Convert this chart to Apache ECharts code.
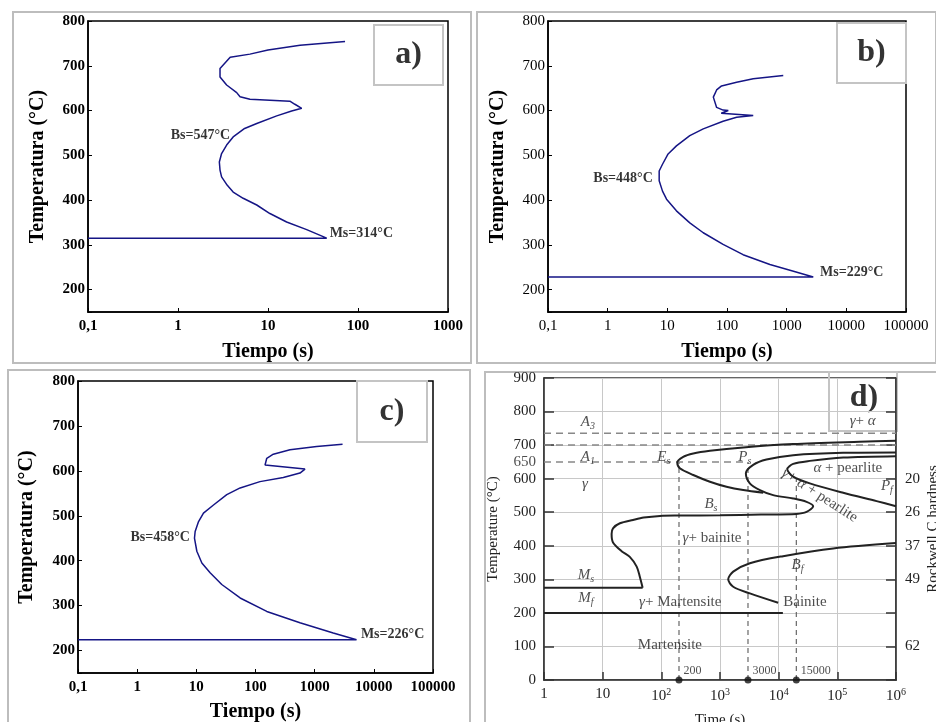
<!DOCTYPE html>
<html>
<head>
<meta charset="utf-8">
<script src="https://cdn.jsdelivr.net/npm/echarts@6/dist/echarts.min.js"></script>
<style>
    html, body { margin: 0; padding: 0; background: #fff; }
    #main { width: 936px; height: 722px; }
</style>
</head>
<body>
<div id="main"></div>
<script>
// ---- panel a ----
var timeA = [71.8, 22.7, 10, 6.3, 3.8, 2.93, 2.93, 3.47, 4.49, 4.89, 6.3, 17.5, 19.9, 23.7, 18.3, 12.5, 7.5, 5.5, 4.1, 3.47, 3.05, 2.88, 2.93, 3.05, 3.53, 4.1, 5.3, 7.5, 10.5, 16.1, 26.9, 44.9, 0.1];
var tempA = [754, 746, 735, 726, 719, 694, 675, 657, 640, 631, 625, 621, 614, 605, 599, 588, 571, 560, 541, 523, 504, 485, 467, 452, 433, 418, 404, 389, 370, 351, 334, 315, 315];
// ---- panel b ----
var timeB = [877, 275, 145, 81, 67, 59, 67, 86, 105, 80, 275, 145, 86, 40, 23.8, 14.2, 10.3, 8.3, 7.3, 7.3, 8.3, 9.7, 14.2, 23.8, 40, 86, 186, 524, 1300, 2790, 0.1];
var tempB = [678, 671, 663, 655, 646, 630, 607, 601, 600, 594, 589, 585, 576, 559, 544, 521, 503, 480, 465, 443, 420, 402, 376, 349, 327, 301, 278, 256, 241, 228, 228];
// ---- panel c ----
var timeC = [2960, 1080, 383, 200, 155, 145, 136, 686, 564, 295, 119, 55, 32.7, 19.5, 13.2, 10.9, 9.55, 9.3, 10.2, 12.4, 17.1, 26.9, 55, 155, 564, 2060, 5100, 0.1];
var tempC = [659, 654, 647, 637, 628, 613, 610, 604, 595, 585, 576, 562, 547, 524, 506, 487, 465, 450, 421, 395, 373, 347, 317, 287, 262, 239, 224, 224];
// labels Bs / Ms for a, b, c
var bsPoints = [[3.8, 545], [5.7, 448], [7.8, 451]];
var bsTexts = ['Bs=547°C', 'Bs=448°C', 'Bs=458°C'];
var msPoints = [[46, 325], [3350, 239], [5590, 235]];
var msTexts = ['Ms=314°C', 'Ms=229°C', 'Ms=226°C'];
var maxTimes = [1000, 100000, 100000];

// ---- panel d (TTT diagram) ----
var esTime = [1e6, 240000, 17700, 2490, 673, 350, 236, 187, 207, 350, 673, 1290, 2490, 5460];
var esTemp = [713, 710, 703, 693, 683, 675, 665, 648, 631, 611, 591, 576, 566, 558];
var psTime = [1e6, 126000, 17700, 6200, 3680, 2760, 3220, 4790, 8060, 17700, 29900, 38700, 29900, 20000, 5000, 1000, 200, 95, 50, 33, 19.7, 15, 14.2, 15, 21, 29, 38, 43, 48];
var psTemp = [678, 677, 670, 657, 641, 616, 586, 566, 551, 541, 531, 518, 501, 495, 493, 491, 490, 489, 484, 477, 467, 452, 435, 410, 384, 367, 338, 308, 275];
var pfTime = [1e6, 126000, 34000, 17700, 14000, 17700, 34000, 126000, 467000, 1e6];
var pfTemp = [667, 663, 653, 644, 628, 606, 586, 558, 533, 518];
var bfTime = [1e6, 85000, 11900, 3230, 1680, 1380, 1680, 3230, 9800];
var bfTemp = [408, 392, 369, 348, 323, 300, 278, 258, 230];
var msTimeD = [1, 48];
var msTempD = [275, 275];
var mfTimeD = [1, 11800];
var mfTempD = [200, 200];
var dashTemps = [735, 700, 650];
var dashEnds = [1e6, 1e6, 3000];
var dropTimes = [200, 3000, 20000];
var dropTops = [648, 650, 600];
var dropLabels = ['200', '3000', '15000'];
var hardTemps = [600, 500, 400, 300, 100];
var hardVals = ['20', '26', '37', '49', '62'];
var noteTimes = [5.6, 5.6, 5, 110, 2650, 700, 151000, 700000, 730, 21000, 5.2, 5.2, 210, 28000, 140, 270000];
var noteTemps = [769, 664, 585, 664, 664, 524, 632, 578, 423, 343, 313, 244, 232, 232, 104, 772];
var noteTexts = ['{i|A}{sb|3}', '{i|A}{sb|1}', '{i|γ}', '{i|E}{sb|s}', '{i|P}{sb|s}', '{i|B}{sb|s}',
    '{i|α} + pearlite', '{i|P}{sb|f}', '{i|γ}+ bainite', '{i|B}{sb|f}', '{i|M}{sb|s}', '{i|M}{sb|f}',
    '{i|γ}+ Martensite', 'Bainite', 'Martensite', '{i|γ}+ {i|α}'];

var serif = 'Liberation Serif';
var navy = '#151585';

function zip (xs, ys) {
    return xs.map(function (x, i) { return [x, ys[i]]; });
}

var grids = [
    { left: 88, top: 21, width: 360, height: 291 },
    { left: 548, top: 21, width: 358, height: 291 },
    { left: 78, top: 381, width: 355, height: 292 },
    { left: 544, top: 378, width: 352, height: 302 }
];
grids.forEach(function (g, i) {
    g.show = true;
    g.borderColor = i === 3 ? '#333' : '#000';
    g.borderWidth = 1.5;
    g.backgroundColor = 'transparent';
    g.containLabel = false;
    g.outerBoundsMode = 'none';
});

var xNameGaps = [30, 30, 29];
var yNameGaps = [40, 40, 41];
var xAxes = [];
var yAxes = [];
[0, 1, 2].forEach(function (i) {
    var bold = i === 1 ? 'normal' : 'bold';
    xAxes.push({
        type: 'log', logBase: 10, gridIndex: i, min: 0.1, max: maxTimes[i],
        name: 'Tiempo (s)', nameLocation: 'middle', nameGap: xNameGaps[i],
        nameTextStyle: { fontFamily: serif, fontWeight: 'bold', fontSize: 20, color: '#000' },
        axisLine: { lineStyle: { color: '#000', width: 1.5 } },
        axisTick: { inside: true, length: 4, lineStyle: { color: '#000' } },
        axisLabel: {
            fontFamily: serif, fontWeight: bold, fontSize: 15, color: '#000', margin: 7,
            formatter: function (v) { return v < 0.5 ? '0,1' : String(Math.round(v)); }
        },
        splitLine: { show: false }
    });
    yAxes.push({
        type: 'value', gridIndex: i, min: 150, max: 800, splitNumber: 6,
        name: 'Temperatura (°C)', nameLocation: 'middle', nameGap: yNameGaps[i],
        nameTextStyle: { fontFamily: serif, fontWeight: 'bold', fontSize: 20, color: '#000' },
        axisLine: { lineStyle: { color: '#000', width: 1.5 } },
        axisTick: { inside: true, length: 4, lineStyle: { color: '#000' } },
        axisLabel: {
            fontFamily: serif, fontWeight: bold, fontSize: 15, color: '#000', margin: 3,
            formatter: function (v) { return v % 100 === 0 ? String(v) : ''; }
        },
        splitLine: { show: false }
    });
});

xAxes.push({
    type: 'log', logBase: 10, gridIndex: 3, min: 1, max: 1e6,
    name: 'Time (s)', nameLocation: 'middle', nameGap: 33,
    nameTextStyle: { fontFamily: serif, fontSize: 15, color: '#222' },
    axisLine: { lineStyle: { color: '#333', width: 1.5 } },
    axisTick: { inside: true, length: 8, lineStyle: { color: '#333', width: 1.5 } },
    axisLabel: {
        fontFamily: serif, fontSize: 15, color: '#222', margin: 7,
        formatter: function (v) {
            var e = Math.round(Math.log10(v));
            if (e === 0) return '1';
            if (e === 1) return '10';
            return '10{sup|' + e + '}';
        },
        rich: { sup: { fontFamily: serif, fontSize: 10, color: '#222', padding: [0, 0, 8, 0] } }
    },
    splitLine: { show: true, lineStyle: { color: '#c8c8c8', width: 1 } }
});
yAxes.push({
    type: 'value', gridIndex: 3, min: 0, max: 900, interval: 100,
    name: 'Temperature (°C)', nameLocation: 'middle', nameGap: 43,
    nameTextStyle: { fontFamily: serif, fontSize: 15, color: '#222' },
    axisLine: { lineStyle: { color: '#333', width: 1.5 } },
    axisTick: { inside: true, length: 10, lineStyle: { color: '#333', width: 1.5 } },
    axisLabel: { fontFamily: serif, fontSize: 15, color: '#222', margin: 8 },
    splitLine: { show: true, lineStyle: { color: '#c8c8c8', width: 1 } }
});
yAxes.push({
    type: 'value', gridIndex: 3, position: 'right', min: 0, max: 900, interval: 100,
    name: 'Rockwell C hardness', nameLocation: 'middle', nameGap: 30, nameRotate: 90,
    nameMoveOverlap: false,
    nameTextStyle: { fontFamily: serif, fontSize: 15, color: '#222' },
    axisLine: { show: true, lineStyle: { color: '#333', width: 1.5 } },
    axisTick: { show: true, inside: true, length: 10, lineStyle: { color: '#333', width: 1.5 } },
    axisLabel: {
        fontFamily: serif, fontSize: 15, color: '#222', margin: 9,
        formatter: function (v) {
            var k = hardTemps.indexOf(v);
            return k >= 0 ? hardVals[k] : '';
        }
    },
    splitLine: { show: false }
});

var series = [];
var noteFont = { fontFamily: serif, fontWeight: 'bold', fontSize: 14, color: '#000' };
[zip(timeA, tempA), zip(timeB, tempB), zip(timeC, tempC)].forEach(function (d, i) {
    series.push({
        type: 'line', xAxisIndex: i, yAxisIndex: i, data: d, symbol: 'none',
        lineStyle: { color: navy, width: 1.5 }
    });
    series.push({
        type: 'scatter', xAxisIndex: i, yAxisIndex: i, symbolSize: 0,
        data: [bsPoints[i]],
        label: Object.assign({ show: true, position: 'left', distance: 0, formatter: bsTexts[i] }, noteFont)
    });
    series.push({
        type: 'scatter', xAxisIndex: i, yAxisIndex: i, symbolSize: 0,
        data: [msPoints[i]],
        label: Object.assign({ show: true, position: 'right', distance: 2, formatter: msTexts[i] }, noteFont)
    });
});

var curveStyle = { color: '#222', width: 2 };
[[esTime, esTemp], [psTime, psTemp], [pfTime, pfTemp], [bfTime, bfTemp], [msTimeD, msTempD], [mfTimeD, mfTempD]].forEach(function (c) {
    series.push({
        type: 'line', xAxisIndex: 3, yAxisIndex: 3, data: zip(c[0], c[1]), symbol: 'none',
        smooth: 0.3, lineStyle: curveStyle, z: 3
    });
});
dashTemps.forEach(function (t, i) {
    series.push({
        type: 'line', xAxisIndex: 3, yAxisIndex: 3, data: [[1, t], [dashEnds[i], t]], symbol: 'none',
        lineStyle: { color: '#888', width: 1.5, type: [7, 5] }, z: 2
    });
});
dropTimes.forEach(function (t, i) {
    series.push({
        type: 'line', xAxisIndex: 3, yAxisIndex: 3, data: [[t, 0], [t, dropTops[i]]], symbol: 'none',
        lineStyle: { color: '#666', width: 1.2, type: [5, 4] }, z: 2
    });
});
series.push({
    type: 'scatter', xAxisIndex: 3, yAxisIndex: 3, symbolSize: 7,
    data: dropTimes.map(function (t) { return [t, 0]; }),
    itemStyle: { color: '#111' }, z: 5,
    label: {
        show: true, position: 'right', distance: 1, offset: [0, -9],
        fontFamily: serif, fontSize: 12, color: '#222',
        formatter: function (p) { return dropLabels[p.dataIndex]; }
    }
});
// 650 tick label on the temperature axis
series.push({
    type: 'scatter', xAxisIndex: 3, yAxisIndex: 3, symbolSize: 0,
    data: [[1, 650]],
    label: { show: true, position: 'left', distance: 8, fontFamily: serif, fontSize: 15, color: '#222', formatter: '650' }
});
var richD = {
    i: { fontFamily: serif, fontStyle: 'italic', fontSize: 15, color: '#222' },
    sb: { fontFamily: serif, fontStyle: 'italic', fontSize: 10, color: '#222', padding: [8, 0, 0, 0] }
};
series.push({
    type: 'scatter', xAxisIndex: 3, yAxisIndex: 3, symbolSize: 0,
    data: zip(noteTimes, noteTemps),
    label: {
        show: true, position: 'inside', fontFamily: serif, fontSize: 15, color: '#222',
        formatter: function (p) { return noteTexts[p.dataIndex]; }, rich: richD
    }
});
series.push({
    type: 'scatter', xAxisIndex: 3, yAxisIndex: 3, symbolSize: 0,
    data: [[50000, 550]],
    label: {
        show: true, position: 'inside', rotate: -33, fontFamily: serif, fontSize: 15, color: '#222',
        formatter: '{i|γ}+ {i|α} + pearlite', rich: richD
    }
});

function boxLabel (x, y, w, h, text) {
    return {
        type: 'group', z: 100,
        children: [
            { type: 'rect', shape: { x: x, y: y, width: w, height: h }, style: { fill: 'none', stroke: '#c4c4c4', lineWidth: 2 } },
            { type: 'text', x: x + w / 2, y: y + h / 2, style: { text: text, font: 'bold 32px "Liberation Serif"', fill: '#333', align: 'center', verticalAlign: 'middle' } }
        ]
    };
}
function frame (x, y, w, h) {
    return { type: 'rect', z: 0, shape: { x: x, y: y, width: w, height: h }, style: { fill: 'none', stroke: '#bdbdbd', lineWidth: 2 } };
}

var chart = echarts.init(document.getElementById('main'));
chart.setOption({
    animation: false,
    backgroundColor: '#fff',
    grid: grids,
    xAxis: xAxes,
    yAxis: yAxes,
    series: series,
    graphic: [
        frame(13, 12, 458, 351),
        frame(477, 12, 459, 351),
        frame(8, 370, 462, 360),
        frame(485, 372, 460, 360),
        boxLabel(374, 25, 69, 60, 'a)'),
        boxLabel(837, 23, 69, 60, 'b)'),
        boxLabel(357, 381, 70, 61, 'c)'),
        {
            type: 'group', z: 100,
            children: [
                { type: 'rect', shape: { x: 829, y: 372, width: 68, height: 59 }, style: { fill: 'none', stroke: '#c4c4c4', lineWidth: 2 } },
                { type: 'text', x: 864, y: 398, style: { text: 'd)', font: 'bold 32px "Liberation Serif"', fill: '#333', align: 'center', verticalAlign: 'middle' } }
            ]
        }
    ]
});
</script>
</body>
</html>
